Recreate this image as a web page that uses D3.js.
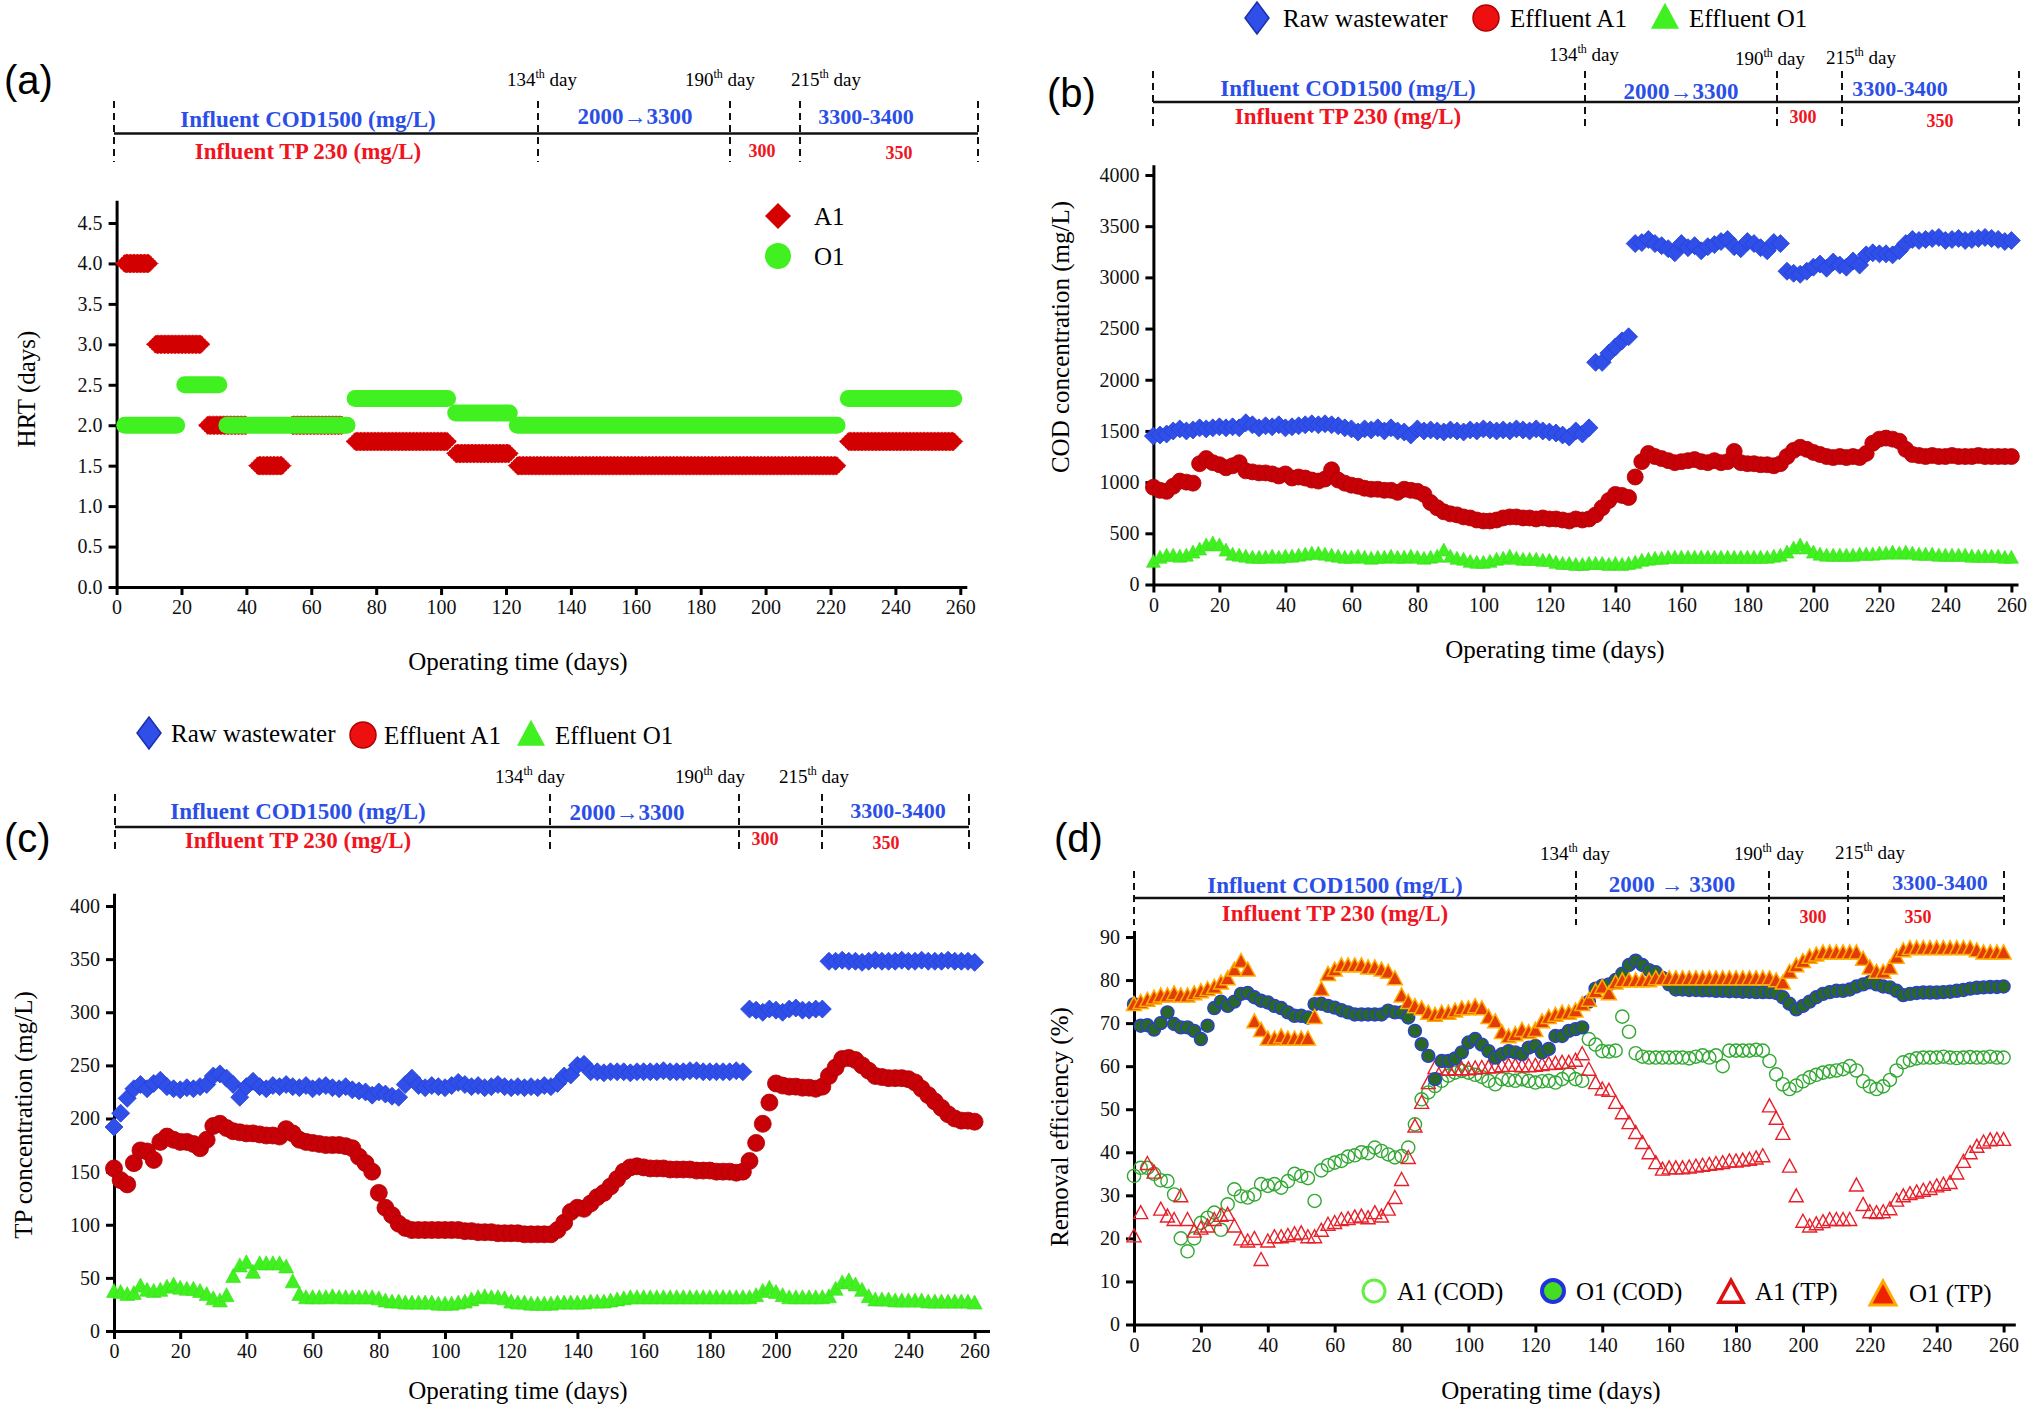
<!DOCTYPE html>
<html>
<head>
<meta charset="utf-8">
<script src="https://cdn.jsdelivr.net/npm/d3@7"></script>
<style>
  body { margin: 0; background: #fff; }
  svg text { font-family: "Liberation Serif", "Times New Roman", serif; }
  .axis path, .axis line { stroke: #000; stroke-width: 3; }
  .axis text { font-size: 20px; fill: #111; font-family: "Liberation Serif", serif; }
</style>
</head>
<body>
<svg id="chart" width="2032" height="1407"></svg>
<script>
// ---- data ----------------------------------------------------------------
// sampling days (every second day, 0..260)
let days = [
  0, 2, 4, 6, 8, 10, 12, 14, 16, 18, 20, 22, 24, 26, 28, 30, 32, 34, 36, 38,
  40, 42, 44, 46, 48, 50, 52, 54, 56, 58, 60, 62, 64, 66, 68, 70, 72, 74, 76, 78,
  80, 82, 84, 86, 88, 90, 92, 94, 96, 98, 100, 102, 104, 106, 108, 110, 112, 114, 116, 118,
  120, 122, 124, 126, 128, 130, 132, 134, 136, 138, 140, 142, 144, 146, 148, 150, 152, 154, 156, 158,
  160, 162, 164, 166, 168, 170, 172, 174, 176, 178, 180, 182, 184, 186, 188, 190, 192, 194, 196, 198,
  200, 202, 204, 206, 208, 210, 212, 214, 216, 218, 220, 222, 224, 226, 228, 230, 232, 234, 236, 238,
  240, 242, 244, 246, 248, 250, 252, 254, 256, 258, 260
]
let dayTicks = [0, 20, 40, 60, 80, 100, 120, 140, 160, 180, 200, 220, 240, 260]

// (a) HRT periods: [first day, last day, HRT]
let hrtA1 = [[2.5, 10, 4.0], [12, 26, 3.0], [28, 40, 2.0], [43.5, 51, 1.5], [54, 69.5, 2.0],
  [73.5, 102, 1.8], [104.5, 121, 1.65], [123.5, 222, 1.5], [225.5, 258, 1.8]]
let hrtO1 = [[2.5, 18.5, 2.0], [21, 31.5, 2.5], [34, 71, 2.0], [73.5, 102, 2.33],
  [104.5, 121, 2.15], [123.5, 222, 2.0], [225.5, 258, 2.33]]

// (b) COD, mg/L
let codRaw = [
  1450, 1460, 1470, 1500, 1520, 1500, 1510, 1530, 1520, 1530,
  1540, 1530, 1540, 1530, 1580, 1560, 1530, 1550, 1540, 1560,
  1530, 1540, 1550, 1560, 1570, 1560, 1570, 1560, 1550, 1530,
  1520, 1490, 1520, 1510, 1530, 1500, 1530, 1500, 1490, 1460,
  1520, 1500, 1510, 1500, 1490, 1510, 1500, 1490, 1510, 1500,
  1520, 1510, 1500, 1510, 1500, 1520, 1510, 1500, 1520, 1500,
  1490, 1480, 1460, 1440, 1500, 1470, 1530, 2170, 2170, 2260,
  2320, 2380, 2420, 3330, 3340, 3370, 3330, 3310, 3280, 3240,
  3330, 3290, 3310, 3260, 3300, 3320, 3350, 3370, 3300, 3280,
  3350, 3330, 3290, 3260, 3340, 3330, 3060, 3040, 3030, 3060,
  3100, 3130, 3090, 3150, 3120, 3100, 3160, 3120, 3220, 3240,
  3230, 3230, 3220, 3260, 3330, 3370, 3360, 3370, 3380, 3390,
  3360, 3370, 3380, 3360, 3370, 3380, 3390, 3380, 3370, 3350,
  3360
]
let codA1 = [
  950, 920, 910, 960, 1010, 1000, 990, 1180, 1230, 1190,
  1170, 1140, 1160, 1190, 1110, 1100, 1090, 1090, 1080, 1060,
  1080, 1040, 1050, 1040, 1020, 1010, 1030, 1120, 1020, 990,
  970, 960, 940, 930, 930, 920, 920, 900, 930, 920,
  910, 880, 800, 750, 710, 690, 680, 660, 650, 630,
  620, 620, 630, 650, 660, 660, 650, 650, 640, 650,
  640, 640, 630, 620, 640, 630, 640, 680, 750, 820,
  880, 870, 850, 1050, 1200, 1280, 1250, 1230, 1210, 1190,
  1200, 1210, 1220, 1200, 1190, 1210, 1190, 1200, 1300, 1190,
  1180, 1180, 1170, 1170, 1160, 1180, 1250, 1310, 1340, 1320,
  1290, 1270, 1250, 1240, 1250, 1240, 1250, 1240, 1280, 1380,
  1420, 1430, 1420, 1400, 1320, 1270, 1260, 1250, 1260, 1250,
  1250, 1260, 1250, 1250, 1250, 1260, 1250, 1250, 1250, 1250,
  1250
]
let codO1 = [
  210, 250, 270, 270, 260, 270, 300, 330, 370, 390,
  370, 320, 280, 270, 260, 250, 250, 250, 260, 250,
  260, 260, 270, 280, 290, 290, 280, 270, 260, 250,
  250, 260, 250, 240, 250, 250, 260, 250, 250, 260,
  250, 240, 250, 260, 320, 260, 240, 230, 210, 200,
  200, 210, 230, 240, 260, 240, 230, 230, 230, 220,
  220, 200, 190, 190, 180, 180, 190, 190, 190, 180,
  190, 180, 190, 200, 220, 230, 240, 240, 250, 250,
  250, 250, 250, 250, 250, 250, 250, 250, 250, 250,
  250, 250, 250, 250, 260, 270, 300, 340, 370, 340,
  300, 280, 270, 270, 270, 270, 270, 280, 280, 280,
  290, 290, 300, 290, 300, 290, 280, 280, 280, 270,
  270, 270, 270, 270, 260, 260, 260, 260, 260, 250,
  250
]

// (c) TP, mg/L
let tpRaw = [
  192, 205, 219, 228, 232, 228, 233, 236, 230, 228,
  227, 229, 228, 230, 232, 240, 242, 238, 232, 220,
  230, 235, 230, 228, 231, 230, 232, 230, 229, 231,
  228, 230, 231, 229, 228, 230, 227, 226, 225, 222,
  225, 223, 221, 220, 232, 238, 231, 229, 231, 230,
  229, 231, 234, 232, 230, 231, 229, 230, 232, 230,
  229, 230, 229, 230, 229, 231, 230, 233, 240, 241,
  250, 251, 244, 244, 243, 244, 244, 244, 243, 244,
  244, 244, 244, 245, 244, 244, 244, 245, 245, 244,
  244, 244, 244, 244, 245, 244, 303, 302, 300, 303,
  302, 300, 303, 304, 302, 302, 303, 303, 348, 348,
  349, 348, 348, 347, 348, 349, 348, 348, 348, 349,
  348, 348, 349, 348, 348, 348, 349, 348, 348, 348,
  347
]
let tpA1 = [
  153, 142, 138, 158, 170, 169, 161, 178, 183, 180,
  178, 178, 176, 172, 180, 193, 195, 191, 188, 187,
  186, 186, 185, 184, 184, 183, 190, 186, 180, 178,
  177, 176, 175, 175, 175, 174, 172, 164, 158, 150,
  130, 116, 109, 101, 97, 95, 95, 95, 95, 95,
  95, 95, 95, 94, 94, 93, 93, 93, 92, 92,
  92, 92, 91, 91, 91, 91, 91, 95, 102, 112,
  116, 115, 120, 126, 130, 136, 143, 150, 154, 155,
  154, 153, 153, 153, 152, 152, 152, 152, 151, 151,
  151, 150, 150, 150, 149, 150, 160, 177, 195, 215,
  233, 231, 230, 230, 229, 229, 228, 230, 240, 248,
  256, 257, 255, 250, 245, 240, 239, 238, 238, 238,
  237, 234, 228, 222, 216, 210, 204, 200, 198, 198,
  197
]
let tpO1 = [
  36, 35, 33, 34, 41, 37, 36, 37, 40, 42,
  39, 38, 38, 36, 33, 29, 27, 32, 50, 60,
  63, 54, 62, 62, 62, 62, 59, 45, 33, 30,
  30, 30, 30, 31, 30, 30, 30, 30, 30, 30,
  29, 27, 26, 26, 25, 25, 25, 25, 25, 24,
  24, 24, 25, 26, 28, 30, 31, 30, 30, 29,
  26, 25, 25, 24, 24, 24, 24, 25, 25, 25,
  25, 25, 26, 26, 26, 27, 28, 29, 30, 30,
  30, 30, 30, 30, 30, 30, 30, 30, 30, 30,
  30, 30, 30, 30, 30, 30, 30, 32, 36, 39,
  35, 32, 30, 30, 30, 30, 30, 30, 31, 38,
  44, 46, 42, 37, 31, 28, 28, 28, 27, 27,
  27, 27, 27, 26, 26, 26, 26, 26, 26, 26,
  25
]

// (d) removal efficiency, %
let remA1COD = [
  34.5, 36.4, 36.4, 35, 33.5, 33.3, 30.2, 20, 17, 20,
  23.6, 24.8, 26, 22, 27.9, 31.4, 29.8, 29.5, 30.2, 32.6,
  32.2, 32.6, 31.8, 33.3, 35, 34.5, 34, 28.7, 35.8, 37,
  37.6, 38, 39, 39.3, 40, 39.8, 41.1, 40.3, 39.5, 38.8,
  39.1, 41.1, 46.5, 52.3, 53.9, 55.4, 56.6, 57.8, 58.5, 58.9,
  58.5, 58, 57.5, 56.6, 55.8, 57, 56.8, 56.6, 57, 56.6,
  56.2, 56.5, 56.6, 56.2, 57, 58.1, 57, 56.6, 66.3, 65,
  63.5, 63.4, 63.6, 71.5, 68, 63, 62.2, 62, 62, 62,
  62, 62, 62, 61.8, 62.2, 62.5, 62, 62.5, 60, 63.6,
  63.6, 63.6, 63.6, 63.8, 63.6, 61.2, 58.1, 55.8, 54.7, 55.5,
  56.5, 57.4, 58, 58.5, 58.8, 59, 59.3, 60, 59, 56.5,
  55.3, 54.7, 55.3, 56.8, 59, 60.9, 61.4, 61.8, 62, 62,
  62, 62.2, 62, 61.9, 62, 62.1, 62, 62, 62.2, 62,
  62
]
let remO1COD = [
  74.4, 69.4, 69.5, 68.5, 70, 72.5, 69.8, 69, 69, 68.2,
  66.3, 69.4, 73.5, 75, 74, 75, 76.8, 77, 76, 75.2,
  74.8, 74, 73.5, 72.5, 71.7, 71.7, 71.3, 74.4, 74.5, 74,
  73.6, 73, 72.5, 72, 72, 72, 72, 72, 72.9, 72.5,
  72.5, 71.3, 68.2, 65.1, 62.4, 57, 61.2, 61.2, 61.8, 63.2,
  65.5, 66.3, 65, 63.5, 62, 62.8, 63.5, 63.2, 62.8, 64.3,
  64.7, 63.2, 64, 67, 67, 68.2, 68.6, 69, 75, 78,
  78.7, 79, 80, 81.5, 83.5, 84.5, 83.5, 82.3, 81.8, 80.5,
  79, 77.8, 77.8, 77.7, 77.7, 77.6, 77.6, 77.5, 77.5, 77.4,
  77.4, 77.3, 77.3, 77.2, 77.2, 77.2, 77, 76, 74.5, 73.2,
  74, 75, 76, 76.8, 77.2, 77.5, 77.5, 77.8, 78.5, 79,
  79.5, 79, 78.5, 78.3, 77.5, 76.5, 76.8, 77, 77.1, 77.1,
  77.1, 77.2, 77.3, 77.5, 77.7, 78, 78.2, 78.3, 78.4, 78.4,
  78.5
]
let remA1TP = [
  20.2, 25.6, 37, 35, 26.4, 24.8, 24, 29.5, 24, 21.3,
  22, 22.5, 24, 25, 25.2, 22.5, 19.5, 19, 19.6, 14.7,
  19, 20, 20, 20.3, 20.7, 20.9, 20, 20, 21.5, 22.9,
  23.3, 24, 24.2, 24.6, 24.8, 24.4, 25.6, 24.8, 26.4, 29.1,
  33.3, 38.4, 45.7, 51.2, 55.8, 59.3, 58.9, 58.9, 59, 59,
  59, 59.2, 59.3, 59.4, 59.5, 59.7, 59.8, 59.8, 59.7, 59.7,
  59.8, 60, 60.2, 60.3, 60.5, 60.5, 61, 62.5, 58.9, 55.8,
  54.3, 54, 51.2, 48.8, 46.5, 44.2, 41.9, 39.5, 37.2, 35.7,
  36, 36, 36, 36.2, 36.4, 36.6, 36.8, 37, 37.2, 37.6,
  37.6, 37.8, 38, 38.3, 38.8, 50.4, 47.5, 44, 36.4, 29.5,
  23.6, 22.5, 23, 23.5, 24, 24, 24, 24, 32, 27.5,
  25.8, 25.6, 25.8, 26.5, 28.5, 29.5, 30, 30.4, 30.8, 31.2,
  31.8, 32.2, 32.6, 34.8, 37.5, 39.5, 41, 42, 42.5, 42.6,
  42.6
]
let remO1TP = [
  74, 74.5, 75, 75.5, 76, 76, 76.5, 76, 76, 76.5,
  77, 77.5, 78, 79, 80, 82, 84, 82, 70, 68,
  66, 66, 66.5, 66, 66, 66, 66, 71, 77.5, 81,
  82, 83, 83, 83, 83, 82.5, 82.5, 82, 81.5, 80,
  76, 74.5, 73.5, 73, 72, 71.5, 72, 72, 72.5, 73,
  73, 73.5, 73, 71, 70, 67.5, 66.5, 67, 68, 67.5,
  68, 70, 71, 71.5, 72, 72, 72.5, 74, 75, 77,
  78, 76.5, 79, 79.5, 79.5, 79.5, 79.5, 79.5, 80, 80,
  80, 80, 80, 80, 80, 80, 80, 80, 80, 80,
  80, 80, 80, 80, 80, 80, 79.5, 79, 81.5, 83,
  84, 85, 85.5, 86, 86, 86, 86, 86, 86, 84.5,
  82.5, 81.5, 81.5, 82.5, 85, 86.5, 87, 87, 87, 87,
  87, 87, 87, 87, 87, 87, 86.5, 86, 86, 86,
  86
]

// ---- styles --------------------------------------------------------------
let BLUE_TXT = '#2b4fe6'
let RED_TXT = '#f0141e'
let svg = d3.select('#chart')

let diamond = (w, h) => `M0,${-h}L${w},0L0,${h}L${-w},0Z`
let triangle = (w, h) => `M0,${-2 * h / 3}L${w / 2},${h / 3}L${-w / 2},${h / 3}Z`
let circle = r => `M${-r},0A${r},${r} 0 1,0 ${r},0A${r},${r} 0 1,0 ${-r},0Z`

// ---- helpers -------------------------------------------------------------
function makePanel (p) {
  let x = d3.scaleLinear().domain([0, 260]).range([p.x0, p.x260])
  let y = d3.scaleLinear().domain([0, p.yRef]).range([p.y0, p.yRefPx])
  let xAxisScale = x.copy().domain([0, p.xEnd]).range([p.x0, x(p.xEnd)])
  let yAxisScale = y.copy().domain([0, p.yEnd]).range([p.y0, y(p.yEnd)])
  let g = svg.append('g')

  g.append('g')
    .attr('class', 'axis')
    .attr('transform', 'translate(0,' + p.y0 + ')')
    .call(d3.axisBottom(xAxisScale).tickValues(dayTicks).tickSize(8).tickSizeOuter(0).tickPadding(5))

  g.append('g')
    .attr('class', 'axis')
    .attr('transform', 'translate(' + p.x0 + ',0)')
    .call(d3.axisLeft(yAxisScale).tickValues(p.yTicks).tickFormat(d3.format(p.fmt))
      .tickSize(8).tickSizeOuter(0).tickPadding(6))

  g.append('text')
    .attr('x', p.xTitle[0]).attr('y', p.xTitle[1])
    .attr('text-anchor', 'middle')
    .style('font-size', '25px')
    .text('Operating time (days)')

  g.append('text')
    .attr('transform', 'translate(' + p.yTitle[0] + ',' + p.yTitle[1] + ') rotate(-90)')
    .attr('text-anchor', 'middle')
    .attr('dominant-baseline', 'central')
    .style('font-size', '25px')
    .text(p.yLabel)

  g.append('text')
    .attr('x', p.tag[0]).attr('y', p.tag[1])
    .style('font-family', '"Liberation Sans", Arial, sans-serif')
    .style('font-size', '40px')
    .text(p.tagText)

  return { g: g, x: x, y: y }
}

function drawHeader (h, cod2000) {
  let g = svg.append('g')
  let xs = h.lines
  g.append('line')
    .attr('x1', xs[0]).attr('x2', xs[xs.length - 1])
    .attr('y1', h.lineY).attr('y2', h.lineY)
    .attr('stroke', '#111').attr('stroke-width', 2.5)
  g.selectAll('.vdash').data(xs).join('line')
    .attr('x1', d => d).attr('x2', d => d)
    .attr('y1', h.top).attr('y2', h.bottom)
    .attr('stroke', '#111').attr('stroke-width', 2)
    .attr('stroke-dasharray', '7,5')

  h.days.forEach(function (d) {
    let t = g.append('text')
      .attr('x', d[1]).attr('y', d[2])
      .attr('text-anchor', 'middle')
      .style('font-size', '19px')
    t.append('tspan').text(d[0])
    t.append('tspan').attr('dy', -8).style('font-size', '12px').text('th')
    t.append('tspan').attr('dy', 8).text('\u00a0day')
  })

  let items = [
    ['Influent COD1500 (mg/L)', h.cod, BLUE_TXT, 23],
    ['Influent TP 230 (mg/L)', h.tp, RED_TXT, 23],
    [cod2000, h.ramp, BLUE_TXT, 23],
    ['300', h.tp300, RED_TXT, 18],
    ['3300-3400', h.high, BLUE_TXT, 22],
    ['350', h.tp350, RED_TXT, 18]
  ]
  items.forEach(function (it) {
    g.append('text')
      .attr('x', it[1][0]).attr('y', it[1][1])
      .attr('text-anchor', 'middle')
      .attr('fill', it[2])
      .style('font-weight', 'bold')
      .style('font-size', it[3] + 'px')
      .text(it[0])
  })
}

function drawPoints (g, x, y, values, shape, style) {
  let sel = g.append('g').selectAll('path')
    .data(values.map((v, i) => [days[i], v]))
    .join('path')
    .attr('transform', d => 'translate(' + x(d[0]) + ',' + y(d[1]) + ')')
    .attr('d', shape)
  Object.keys(style).forEach(k => sel.attr(k, style[k]))
}

function drawLegend (items, size) {
  let g = svg.append('g')
  items.forEach(function (it) {
    let s = g.append('path')
      .attr('transform', 'translate(' + it.at[0] + ',' + it.at[1] + ')')
      .attr('d', it.shape)
    Object.keys(it.style).forEach(k => s.attr(k, it.style[k]))
    g.append('text')
      .attr('x', it.text[0]).attr('y', it.text[1])
      .style('font-size', (size || 25) + 'px')
      .text(it.label)
  })
}

// ---- styles of the data marks --------------------------------------------
let sRaw = { fill: '#2f4fe8', stroke: '#2340d8', 'stroke-width': 0.8 }
let sA1 = { fill: '#c80008', stroke: '#b00000', 'stroke-width': 0.8 }
let sO1 = { fill: '#40f020', stroke: '#38e018', 'stroke-width': 0.6 }

// ---- (a) HRT ---------------------------------------------------------------
let pa = makePanel({
  x0: 116.6, x260: 960.3, xEnd: 262,
  y0: 587, yRef: 4.5, yRefPx: 223, yEnd: 4.78,
  yTicks: [0, 0.5, 1, 1.5, 2, 2.5, 3, 3.5, 4, 4.5], fmt: '.1f',
  xTitle: [518, 670], yTitle: [26, 389], yLabel: 'HRT (days)',
  tag: [4, 94], tagText: '(a)'
})
drawHeader({
  lines: [114, 538, 730, 800, 978], top: 101, bottom: 162, lineY: 133.5,
  days: [['134', 542, 86], ['190', 720, 86], ['215', 826, 86]],
  cod: [308, 127], tp: [308, 159], ramp: [635, 124], tp300: [762, 157],
  high: [866, 124], tp350: [899, 159]
}, '2000\u21923300')

pa.g.append('g').selectAll('path')
  .data(hrtA1)
  .join('path')
  .attr('d', function (d) {
    let a = pa.x(d[0])
    let b = pa.x(d[1])
    let yy = pa.y(d[2])
    let h = 9
    return 'M' + (a - h) + ',' + yy + 'L' + a + ',' + (yy - h) + 'L' + b + ',' + (yy - h) +
      'L' + (b + h) + ',' + yy + 'L' + b + ',' + (yy + h) + 'L' + a + ',' + (yy + h) + 'Z'
  })
  .attr('fill', '#d20000')
  .attr('stroke', '#e01010')
  .attr('stroke-width', 1)
  .attr('stroke-dasharray', '2,1.5')

pa.g.append('g').selectAll('line')
  .data(hrtO1)
  .join('line')
  .attr('x1', d => pa.x(d[0])).attr('x2', d => pa.x(d[1]))
  .attr('y1', d => pa.y(d[2])).attr('y2', d => pa.y(d[2]))
  .attr('stroke', '#40f020')
  .attr('stroke-width', 17)
  .attr('stroke-linecap', 'round')

drawLegend([
  { at: [778, 216], shape: diamond(13, 13), style: { fill: '#d40000' }, text: [814, 225], label: 'A1' },
  { at: [778, 256], shape: circle(13), style: { fill: '#40f020' }, text: [814, 265], label: 'O1' }
])

// ---- (b) COD -------------------------------------------------------------
let pb = makePanel({
  x0: 1153.4, x260: 2011.4, xEnd: 262,
  y0: 584.5, yRef: 4000, yRefPx: 175, yEnd: 4100,
  yTicks: [0, 500, 1000, 1500, 2000, 2500, 3000, 3500, 4000], fmt: 'd',
  xTitle: [1555, 658], yTitle: [1060, 337], yLabel: 'COD concentration (mg/L)',
  tag: [1047, 107], tagText: '(b)'
})
drawHeader({
  lines: [1153, 1585, 1777, 1842, 2019], top: 71, bottom: 130, lineY: 102,
  days: [['134', 1584, 61], ['190', 1770, 65], ['215', 1861, 64]],
  cod: [1348, 96], tp: [1348, 124], ramp: [1681, 99], tp300: [1803, 123],
  high: [1900, 96], tp350: [1940, 127]
}, '2000\u21923300')
drawPoints(pb.g, pb.x, pb.y, codRaw, diamond(9, 9), sRaw)
drawPoints(pb.g, pb.x, pb.y, codA1, circle(8), sA1)
drawPoints(pb.g, pb.x, pb.y, codO1, triangle(14, 13), sO1)
drawLegend([
  { at: [1257, 18], shape: diamond(12, 16), style: { fill: '#2f4fe8', stroke: '#1a2fb0', 'stroke-width': 1.5 }, text: [1283, 27], label: 'Raw wastewater' },
  { at: [1486, 18], shape: circle(13), style: { fill: '#ee1010', stroke: '#b00000', 'stroke-width': 1.5 }, text: [1510, 27], label: 'Effluent A1' },
  { at: [1665, 20], shape: triangle(28, 26), style: { fill: '#40f020' }, text: [1689, 27], label: 'Effluent O1' }
])

// ---- (c) TP --------------------------------------------------------------
let pc = makePanel({
  x0: 114, x260: 974.6, xEnd: 264.5,
  y0: 1331, yRef: 400, yRefPx: 906, yEnd: 412,
  yTicks: [0, 50, 100, 150, 200, 250, 300, 350, 400], fmt: 'd',
  xTitle: [518, 1399], yTitle: [23, 1115], yLabel: 'TP concentration (mg/L)',
  tag: [4, 852], tagText: '(c)'
})
drawHeader({
  lines: [115, 550, 739, 822, 969], top: 794, bottom: 849, lineY: 827,
  days: [['134', 530, 783], ['190', 710, 783], ['215', 814, 783]],
  cod: [298, 819], tp: [298, 848], ramp: [627, 820], tp300: [765, 845],
  high: [898, 818], tp350: [886, 849]
}, '2000\u21923300')
drawPoints(pc.g, pc.x, pc.y, tpRaw, diamond(9, 9), sRaw)
drawPoints(pc.g, pc.x, pc.y, tpA1, circle(8.5), sA1)
drawPoints(pc.g, pc.x, pc.y, tpO1, triangle(15, 14), sO1)
drawLegend([
  { at: [149, 733], shape: diamond(12, 16), style: { fill: '#2f4fe8', stroke: '#1a2fb0', 'stroke-width': 1.5 }, text: [171, 742], label: 'Raw wastewater' },
  { at: [363, 735], shape: circle(13), style: { fill: '#ee1010', stroke: '#b00000', 'stroke-width': 1.5 }, text: [384, 744], label: 'Effluent A1' },
  { at: [531, 737], shape: triangle(28, 26), style: { fill: '#40f020' }, text: [555, 744], label: 'Effluent O1' }
])

// ---- (d) removal efficiency ----------------------------------------------
let pd = makePanel({
  x0: 1134, x260: 2003.6, xEnd: 263.5,
  y0: 1324.5, yRef: 90, yRefPx: 937, yEnd: 91.5,
  yTicks: [0, 10, 20, 30, 40, 50, 60, 70, 80, 90], fmt: 'd',
  xTitle: [1551, 1399], yTitle: [1059, 1127], yLabel: 'Removal efficiency (%)',
  tag: [1054, 852], tagText: '(d)'
})
drawHeader({
  lines: [1134, 1576, 1769, 1848, 2004], top: 871, bottom: 925, lineY: 898,
  days: [['134', 1575, 860], ['190', 1769, 860], ['215', 1870, 859]],
  cod: [1335, 893], tp: [1335, 921], ramp: [1672, 892], tp300: [1813, 923],
  high: [1940, 890], tp350: [1918, 923]
}, '2000 \u2192 3300')
drawPoints(pd.g, pd.x, pd.y, remA1COD, circle(6.6), { fill: 'none', stroke: '#32a832', 'stroke-width': 1.4 })
drawPoints(pd.g, pd.x, pd.y, remA1TP, triangle(14, 13), { fill: 'none', stroke: '#e8202a', 'stroke-width': 1.4 })
drawPoints(pd.g, pd.x, pd.y, remO1COD, circle(6.5), { fill: '#2a682a', stroke: '#2b3fcc', 'stroke-width': 1.4 })
drawPoints(pd.g, pd.x, pd.y, remO1TP, triangle(15, 14), { fill: '#e23c0a', stroke: '#ffae00', 'stroke-width': 1.5 })
drawLegend([
  { at: [1374, 1291], shape: circle(11), style: { fill: 'none', stroke: '#66ee44', 'stroke-width': 3 }, text: [1397, 1300], label: 'A1 (COD)' },
  { at: [1553, 1291], shape: circle(11), style: { fill: '#44dd22', stroke: '#2233dd', 'stroke-width': 4 }, text: [1576, 1300], label: 'O1 (COD)' },
  { at: [1731, 1295], shape: triangle(24, 22), style: { fill: 'none', stroke: '#dd1111', 'stroke-width': 3.5 }, text: [1755, 1300], label: 'A1 (TP)' },
  { at: [1883, 1297], shape: triangle(26, 24), style: { fill: '#ee2200', stroke: '#ffaa00', 'stroke-width': 3 }, text: [1909, 1302], label: 'O1 (TP)' }
])
</script>
</body>
</html>
